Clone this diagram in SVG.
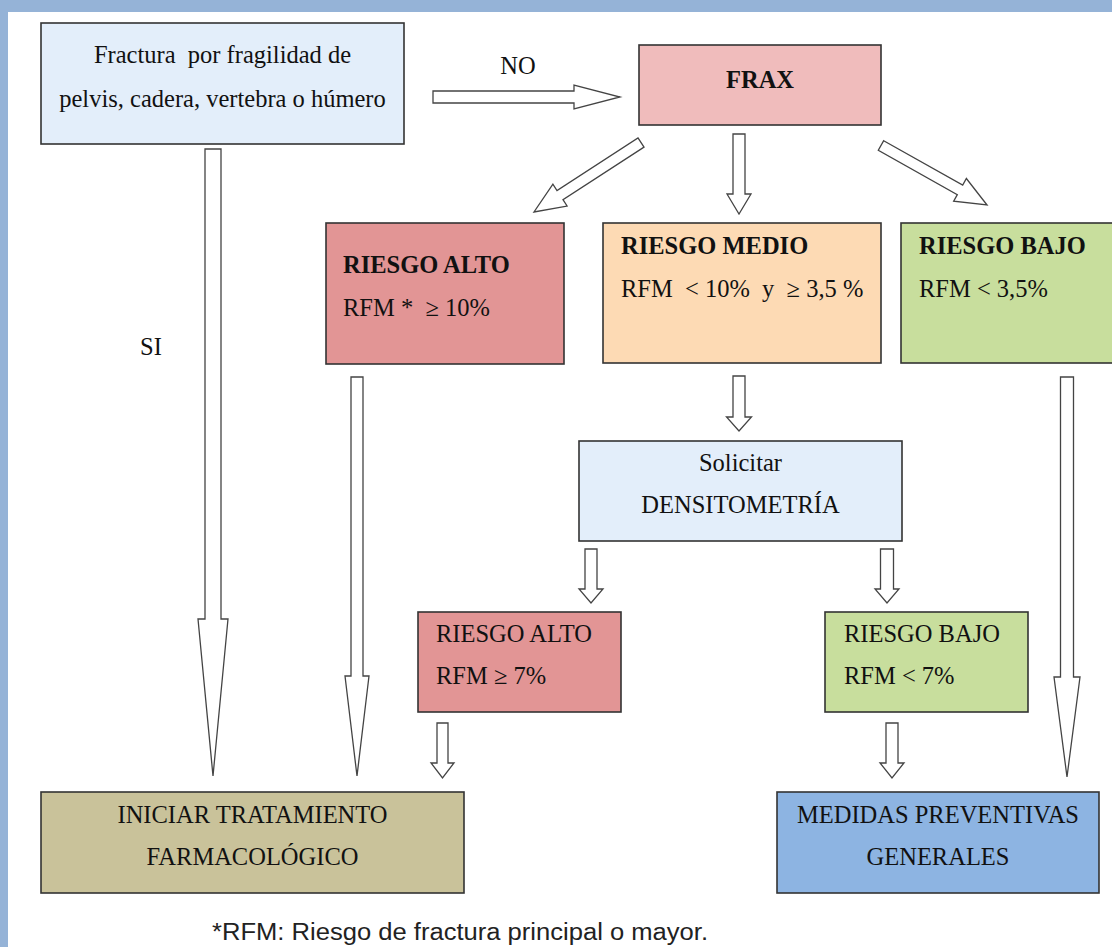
<svg xmlns="http://www.w3.org/2000/svg" width="1112" height="947" viewBox="0 0 1112 947">
<style>
.bx{stroke:#333;stroke-width:1.6}
.t{font-family:"Liberation Serif","Times New Roman",serif;font-size:24.5px;fill:#111}
.b{font-weight:bold}
.m{text-anchor:middle}
.fn{font-family:"Liberation Sans",Arial,sans-serif;font-size:23px;fill:#222}
.ar{fill:#fff;stroke:#444;stroke-width:1.3;stroke-linejoin:miter}
</style>
<rect x="0" y="0" width="1112" height="947" fill="#95B3D7"/>
<rect x="8" y="12" width="1104" height="935" fill="#fff"/>

<g id="connectors">
<polygon class="ar" points="433,91 574,91 574,85 620,97 574,109 574,103 433,103"/>
<polygon class="ar" points="733,134 745,134 745,194 751,194 739,214 727,194 733,194"/>
<polygon class="ar" transform="translate(641,142.5) rotate(147)" points="0,-5.5 96.6,-5.5 96.6,-13 127.6,0 96.6,13 96.6,5.5 0,5.5"/>
<polygon class="ar" transform="translate(881,145.5) rotate(29.3)" points="0,-5.5 90.6,-5.5 90.6,-13 121.6,0 90.6,13 90.6,5.5 0,5.5"/>
<polygon class="ar" points="205,149 221,149 221,619 228,619 213,776 198,619 205,619"/>
<polygon class="ar" points="351,377 363,377 363,676 369,676 357,776 345,676 351,676"/>
<polygon class="ar" points="1060.5,377 1073.5,377 1073.5,677 1080,677 1067,777 1054,677 1060.5,677"/>
<polygon class="ar" points="733,376 745,376 745,417 751.5,417 739,431 726.5,417 733,417"/>
<polygon class="ar" points="585,549 597,549 597,589 603,589 591,603 579,589 585,589"/>
<polygon class="ar" points="880.5,549 893.5,549 893.5,589 899,589 887,603 875,589 880.5,589"/>
<polygon class="ar" points="437,723 448,723 448,763 454,763 442.5,778 431,763 437,763"/>
<polygon class="ar" points="886,723 898,723 898,763 904,763 892,778 880,763 886,763"/>
</g>

<g id="n-fractura">
<rect class="bx" x="41" y="23" width="363" height="121" fill="#E3EEFA"/>
<text class="t m" x="222.5" y="63">Fractura&#160; por fragilidad de</text>
<text class="t m" x="222.5" y="107">pelvis, cadera, vertebra o húmero</text>
</g>
<g id="l-no"><text class="t m" x="518" y="74">NO</text></g>
<g id="l-si"><text class="t" x="140" y="355">SI</text></g>

<g id="n-frax">
<rect class="bx" x="639" y="45" width="242" height="80" fill="#F0BCBC"/>
<text class="t b m" x="760" y="88">FRAX</text>
</g>

<g id="n-alto">
<rect class="bx" x="326" y="223" width="238" height="141" fill="#E29595"/>
<text class="t b" x="343" y="273">RIESGO ALTO</text>
<text class="t" x="343" y="316">RFM *&#160; ≥ 10%</text>
</g>

<g id="n-medio">
<rect class="bx" x="603" y="223" width="278" height="140" fill="#FDDAB4"/>
<text class="t b" x="621" y="254">RIESGO MEDIO</text>
<text class="t" x="621" y="297">RFM&#160; &lt; 10%&#160; y&#160; ≥ 3,5 %</text>
</g>

<g id="n-bajo">
<rect class="bx" x="901" y="223" width="230" height="140" fill="#C8DE9D"/>
<text class="t b" x="919" y="254">RIESGO BAJO</text>
<text class="t" x="919" y="297">RFM &lt; 3,5%</text>
</g>

<g id="n-densitometria">
<rect class="bx" x="579" y="441" width="323" height="100" fill="#E3EEFA"/>
<text class="t m" x="740.5" y="471">Solicitar</text>
<text class="t m" x="740.5" y="513">DENSITOMETRÍA</text>
</g>

<g id="n-alto2">
<rect class="bx" x="418" y="612" width="203" height="100" fill="#E29595"/>
<text class="t" x="436" y="642">RIESGO ALTO</text>
<text class="t" x="436" y="684">RFM ≥ 7%</text>
</g>

<g id="n-bajo2">
<rect class="bx" x="825" y="612" width="203" height="100" fill="#C8DE9D"/>
<text class="t" x="844" y="642">RIESGO BAJO</text>
<text class="t" x="844" y="684">RFM &lt; 7%</text>
</g>

<g id="n-tratamiento">
<rect class="bx" x="41" y="792" width="423" height="101" fill="#C9C29A"/>
<text class="t m" x="252.5" y="823">INICIAR TRATAMIENTO</text>
<text class="t m" x="252.5" y="865">FARMACOLÓGICO</text>
</g>

<g id="n-medidas">
<rect class="bx" x="777" y="792" width="322" height="101" fill="#8DB4E2"/>
<text class="t m" x="938" y="823">MEDIDAS PREVENTIVAS</text>
<text class="t m" x="938" y="865">GENERALES</text>
</g>

<g id="footnote">
<text class="fn" x="212" y="940" textLength="496" lengthAdjust="spacingAndGlyphs">*RFM: Riesgo de fractura principal o mayor.</text>
</g>
</svg>
